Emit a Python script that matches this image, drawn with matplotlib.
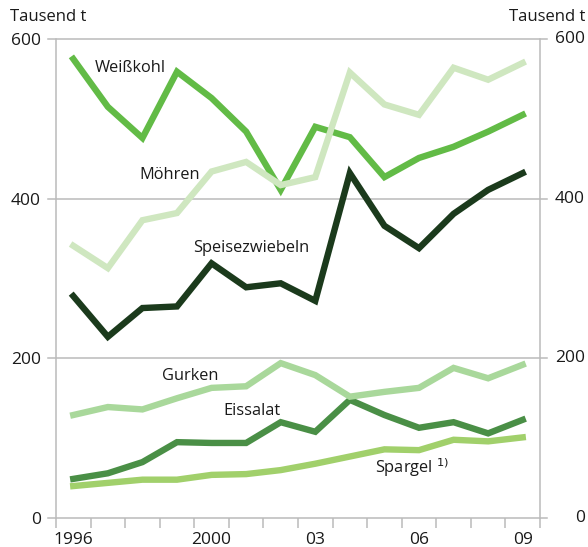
import numpy as np
import matplotlib
matplotlib.use("Agg")
from matplotlib import pyplot as plt
from matplotlib import transforms

plt.rcParams['font.family'] = ['Open Sans', 'DejaVu Sans']

# Gemüseernte in Tausend t
years = list(range(1996, 2010))
year_labels = ["1996", "", "", "", "2000", "", "", "03", "", "", "06", "", "", "09"]
y_ticks = [0, 200, 400, 600]

weisskohl = [575, 515, 476, 559, 526, 484, 411, 490, 477, 427, 451, 465, 484, 505]
moehren = [341, 313, 373, 382, 434, 446, 417, 427, 558, 518, 505, 564, 549, 570]
zwiebeln = [278, 227, 263, 265, 319, 289, 294, 272, 432, 366, 338, 381, 411, 432]
gurken = [129, 139, 136, 150, 163, 165, 194, 179, 152, 158, 163, 188, 175, 192]
eissalat = [49, 56, 70, 95, 94, 94, 120, 108, 148, 129, 113, 120, 106, 123]
spargel = [40, 44, 48, 48, 54, 55, 60, 68, 77, 86, 85, 98, 96, 101]

series = [
    ("Weißkohl", weisskohl, "#62bb46"),
    ("Möhren", moehren, "#cfe7c0"),
    ("Speisezwiebeln", zwiebeln, "#1b3a1c"),
    ("Eissalat", eissalat, "#4a8f46"),
    ("Gurken", gurken, "#a9d89b"),
    ("Spargel", spargel, "#a1d06b"),
]

# label positions (x in category units, y in data)
labels = [
    (0.63, 564, "Weißkohl"),
    (1.9, 430, "Möhren"),
    (3.46, 338, "Speisezwiebeln"),
    (2.57, 178, "Gurken"),
    (4.33, 134, "Eissalat"),
    (8.73, 63, "Spargel $^{1)}$"),
]

fig = plt.figure(figsize=(5.88, 5.47), dpi=100)
ax = fig.add_axes([56/588, 1-518/547, 484/588, 479/547])

x = np.arange(len(years))
grid_col = "#bbbbbb"
txt_col = "#1a1a1a"

for v in y_ticks:
    ax.axhline(v, xmin=-8/484, xmax=1+7/484, color=grid_col, lw=1.1, clip_on=False, zorder=1)

for name, vals, col in series:
    ax.plot(x, vals, color=col, lw=4.6, solid_joinstyle="miter", zorder=3)

for lx, ly, txt in labels:
    ax.text(lx, ly, txt, fontsize=11.8, va="center", ha="left", color=txt_col, zorder=5)

ax.set_xlim(-0.5, 13.5)
ax.set_ylim(0, 600)

for s in ["top", "bottom"]:
    ax.spines[s].set_visible(False)
for s in ["left", "right"]:
    ax.spines[s].set_color(grid_col)
    ax.spines[s].set_linewidth(1.1)

ax.set_yticks(y_ticks)
ax.tick_params(axis="y", length=0, pad=11, labelsize=12.5, labelcolor=txt_col)

ax.set_xticks(x)
ax.set_xticklabels(year_labels)
ax.set_xticks(np.arange(-0.5, 14), minor=True)
ax.tick_params(axis="x", which="major", length=0, pad=10, labelsize=12.5, labelcolor=txt_col)
ax.tick_params(axis="x", which="minor", length=7, width=1.1, color=grid_col)

# right-hand tick labels, right aligned at the figure edge
trans = transforms.blended_transform_factory(fig.transFigure, ax.transData)
for v in y_ticks:
    fig.text(585/588, v, str(v), transform=trans, fontsize=12.5, ha="right", va="center", color=txt_col)

fig.text(10/588, 1-17/547, "Tausend t", fontsize=12, ha="left", va="center", color=txt_col)
fig.text(585/588, 1-17/547, "Tausend t", fontsize=12, ha="right", va="center", color=txt_col)

fig.savefig("out.png", dpi=100)
